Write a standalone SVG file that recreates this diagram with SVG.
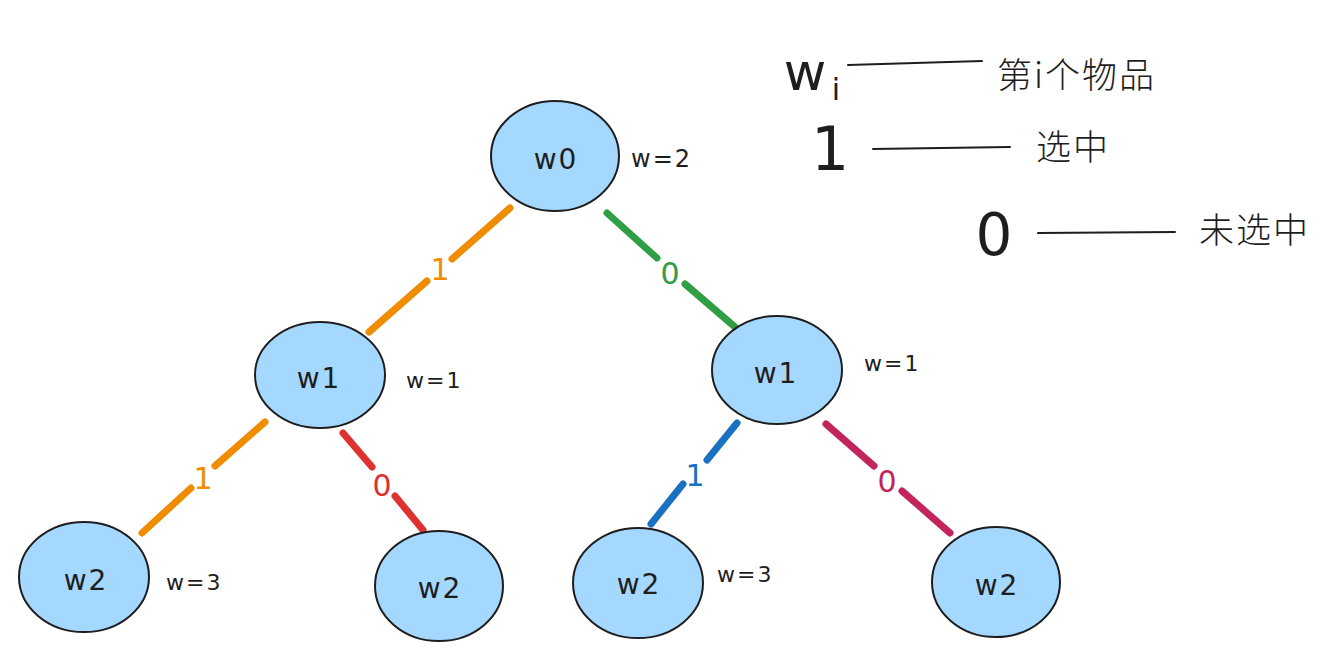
<svg xmlns="http://www.w3.org/2000/svg" width="1339" height="663" viewBox="0 0 1339 663">
<style>
.node ellipse{fill:#a5d8ff;stroke:#1e1e1e;stroke-width:2}
.lbl{font-family:"DejaVu Sans","Liberation Sans",sans-serif;fill:#1e1e1e;text-anchor:middle;font-size:28px;letter-spacing:2px}
.w{font-family:"DejaVu Sans","Liberation Sans",sans-serif;fill:#1e1e1e;font-size:22px;letter-spacing:2px}
.e{stroke-width:7;stroke-linecap:round;fill:none}
.el{font-family:"DejaVu Sans","Liberation Sans",sans-serif;font-size:30px;text-anchor:middle}
.cn{font-family:"Noto Sans CJK SC","Noto Sans",sans-serif;font-size:35px;fill:#1e1e1e;font-weight:300;letter-spacing:2px}
.big{font-family:"DejaVu Sans","Liberation Sans",sans-serif;fill:#1e1e1e;text-anchor:middle}
.leg{stroke:#1e1e1e;stroke-width:2;fill:none;stroke-linecap:round}
</style>
<rect width="1339" height="663" fill="#ffffff"/>
<g id="connectors">
  <g id="e-w0-w1a">
    <line class="e" stroke="#f08c00" x1="510" y1="208" x2="452" y2="259"/>
    <line class="e" stroke="#f08c00" x1="427" y1="281" x2="369" y2="332"/>
    <text class="el" fill="#f08c00" x="440" y="280">1</text>
  </g>
  <g id="e-w0-w1b">
    <line class="e" stroke="#2f9e44" x1="607" y1="213" x2="657" y2="258"/>
    <line class="e" stroke="#2f9e44" x1="685" y1="284" x2="735" y2="327"/>
    <text class="el" fill="#2f9e44" x="670" y="284">0</text>
  </g>
  <g id="e-w1a-w2a">
    <line class="e" stroke="#f08c00" x1="265" y1="422" x2="215" y2="466"/>
    <line class="e" stroke="#f08c00" x1="191" y1="488" x2="142" y2="533"/>
    <text class="el" fill="#f08c00" x="203" y="489">1</text>
  </g>
  <g id="e-w1a-w2b">
    <line class="e" stroke="#e03131" x1="343" y1="433" x2="372" y2="467"/>
    <line class="e" stroke="#e03131" x1="395" y1="496" x2="423" y2="530"/>
    <text class="el" fill="#e03131" x="382" y="496">0</text>
  </g>
  <g id="e-w1b-w2c">
    <line class="e" stroke="#1971c2" x1="737" y1="423" x2="707" y2="460"/>
    <line class="e" stroke="#1971c2" x1="683" y1="484" x2="651" y2="524"/>
    <text class="el" fill="#1971c2" x="695" y="486">1</text>
  </g>
  <g id="e-w1b-w2d">
    <line class="e" stroke="#c2255c" x1="826" y1="424" x2="874" y2="466"/>
    <line class="e" stroke="#c2255c" x1="902" y1="491" x2="950" y2="533"/>
    <text class="el" fill="#c2255c" x="887" y="492">0</text>
  </g>
</g>
<g id="node-w0" class="node">
  <ellipse cx="555" cy="156" rx="64" ry="55"/>
  <text class="lbl" x="556" y="169">w0</text>
  <text class="w" x="631" y="167" style="font-size:24px">w=2</text>
</g>
<g id="node-w1-left" class="node">
  <ellipse cx="320" cy="375" rx="65" ry="53"/>
  <text class="lbl" x="319" y="388">w1</text>
  <text class="w" x="406" y="388">w=1</text>
</g>
<g id="node-w1-right" class="node">
  <ellipse cx="777" cy="370" rx="65" ry="54"/>
  <text class="lbl" x="776" y="383">w1</text>
  <text class="w" x="864" y="371">w=1</text>
</g>
<g id="node-w2-a" class="node">
  <ellipse cx="84" cy="577" rx="65" ry="55"/>
  <text class="lbl" x="86" y="590">w2</text>
  <text class="w" x="166" y="590">w=3</text>
</g>
<g id="node-w2-b" class="node">
  <ellipse cx="439" cy="586" rx="64" ry="55"/>
  <text class="lbl" x="440" y="598">w2</text>
</g>
<g id="node-w2-c" class="node">
  <ellipse cx="638" cy="583" rx="65" ry="55"/>
  <text class="lbl" x="639" y="594">w2</text>
  <text class="w" x="717" y="582">w=3</text>
</g>
<g id="node-w2-d" class="node">
  <ellipse cx="996" cy="582" rx="64" ry="55"/>
  <text class="lbl" x="997" y="595">w2</text>
</g>
<g id="legend">
  <text class="big" x="805" y="90" style="font-size:52px">w</text>
  <text class="big" x="836" y="100" style="font-size:30px">i</text>
  <line class="leg" x1="848" y1="65" x2="982" y2="61"/>
  <text class="cn" x="997" y="88">第i个物品</text>
  <text class="big" x="830" y="170" style="font-size:60px">1</text>
  <line class="leg" x1="873" y1="149" x2="1010" y2="147"/>
  <text class="cn" x="1036" y="160">选中</text>
  <text class="big" x="994" y="255" style="font-size:58px">0</text>
  <line class="leg" x1="1038" y1="233" x2="1175" y2="232"/>
  <text class="cn" x="1199" y="243">未选中</text>
</g>
</svg>
